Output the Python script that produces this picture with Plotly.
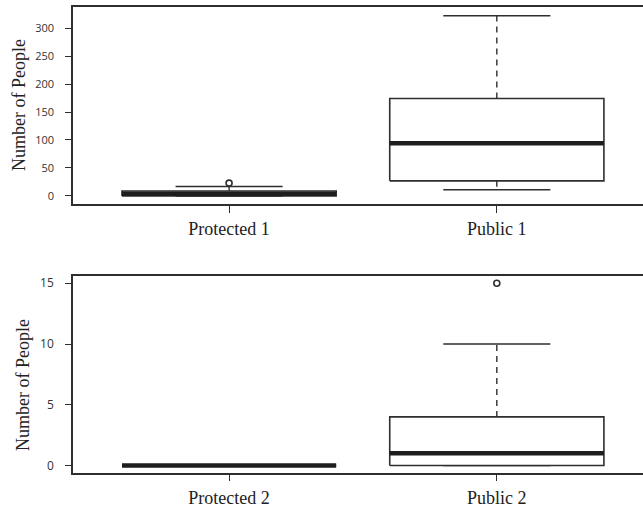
import plotly.graph_objects as go

# ---- data: five-number summaries per group ----
categories_top = ["Protected 1", "Public 1"]
lower_top = [0, 11]
q1_top = [0, 27]
median_top = [4, 94]
q3_top = [9, 174]
upper_top = [17, 322]
outliers_top = [[23], []]

categories_bottom = ["Protected 2", "Public 2"]
lower_bottom = [0, 0]
q1_bottom = [0, 0]
median_bottom = [0, 1]
q3_bottom = [0, 4]
upper_bottom = [0, 10]
outliers_bottom = [[], [15]]

yticks_top = [0, 50, 100, 150, 200, 250, 300]
yticks_bottom = [0, 5, 10, 15]

# ---- styling ----
W, H = 643, 507
INK = "#2e2e2e"
BOX_HALF = 0.4
CAP_HALF = 0.2
SERIF = "Liberation Serif, Times New Roman, serif"
SANS = "Open Sans, Arial, sans-serif"

fig = go.Figure()


def add_boxes(xa, ya, lower, q1, med, q3, upper, outliers):
    for i in range(len(med)):
        c = i + 1
        # whiskers (dashed)
        fig.add_trace(go.Scatter(
            x=[c, c, None, c, c], y=[q3[i], upper[i], None, q1[i], lower[i]],
            mode="lines", line=dict(color=INK, width=1.4, dash="6px,5px"),
            xaxis=xa, yaxis=ya, hoverinfo="skip", showlegend=False))
        # whisker caps
        fig.add_trace(go.Scatter(
            x=[c - CAP_HALF, c + CAP_HALF, None, c - CAP_HALF, c + CAP_HALF],
            y=[upper[i], upper[i], None, lower[i], lower[i]],
            mode="lines", line=dict(color=INK, width=1.5),
            xaxis=xa, yaxis=ya, hoverinfo="skip", showlegend=False))
        # box
        fig.add_trace(go.Scatter(
            x=[c - BOX_HALF, c + BOX_HALF, c + BOX_HALF, c - BOX_HALF, c - BOX_HALF],
            y=[q1[i], q1[i], q3[i], q3[i], q1[i]],
            mode="lines", line=dict(color=INK, width=1.6),
            fill="toself", fillcolor="white",
            xaxis=xa, yaxis=ya, hoverinfo="skip", showlegend=False))
        # median
        fig.add_trace(go.Scatter(
            x=[c - BOX_HALF, c + BOX_HALF], y=[med[i], med[i]],
            mode="lines", line=dict(color="#1e1e1e", width=4.5),
            xaxis=xa, yaxis=ya, hoverinfo="skip", showlegend=False))
        # outliers
        if outliers[i]:
            fig.add_trace(go.Scatter(
                x=[c] * len(outliers[i]), y=outliers[i], mode="markers",
                marker=dict(symbol="circle-open", size=6, color=INK,
                            line=dict(width=1.6, color=INK)),
                xaxis=xa, yaxis=ya, hoverinfo="skip", showlegend=False))


add_boxes("x", "y", lower_top, q1_top, median_top, q3_top, upper_top, outliers_top)
add_boxes("x2", "y2", lower_bottom, q1_bottom, median_bottom, q3_bottom,
          upper_bottom, outliers_bottom)

# plot-area geometry (pixels)
L = 73
top_y0, top_y1 = 7, 204
bot_y0, bot_y1 = 276, 472.5
xrange = [0.417, 2.546]


def ydom(p0, p1):
    return [1 - p1 / H, 1 - p0 / H]


xaxis_common = dict(
    range=xrange, showgrid=False, zeroline=False,
    showline=True, mirror=True, linecolor=INK, linewidth=1.6,
    ticks="outside", ticklen=7, tickwidth=1.4, tickcolor=INK,
    tickfont=dict(family=SERIF, size=18, color="#222"),
    tickvals=[1, 2], ticklabelstandoff=1, automargin=False, fixedrange=True,
)
yaxis_common = dict(
    showgrid=False, zeroline=False,
    showline=True, mirror=False, linecolor=INK, linewidth=1.6,
    ticks="outside", ticklen=6, tickwidth=1.4, tickcolor=INK,
    tickfont=dict(family=SANS, size=11, color="#333"),
    ticklabelstandoff=9, automargin=False, fixedrange=True,
)

fig.update_layout(
    width=W, height=H,
    margin=dict(l=L, r=0, t=0, b=0),
    paper_bgcolor="white", plot_bgcolor="white",
    showlegend=False,
    xaxis=dict(xaxis_common, anchor="y", ticktext=categories_top),
    yaxis=dict(yaxis_common, anchor="x", domain=ydom(top_y0, top_y1),
               range=[-14.3, 337.5], tickvals=yticks_top),
    xaxis2=dict(xaxis_common, anchor="y2", ticktext=categories_bottom),
    yaxis2=dict(yaxis_common, anchor="x2", domain=ydom(bot_y0, bot_y1),
                range=[-0.58, 15.6], tickvals=yticks_bottom,
                tickfont=dict(family=SANS, size=12, color="#333")),
)

pw = W - L
for xc, yc in [(19, 105), (23, 385)]:
    fig.add_annotation(
        text="Number of People", xref="paper", yref="paper",
        x=(xc - L) / pw, y=1 - yc / H, xanchor="center", yanchor="middle",
        textangle=-90, showarrow=False,
        font=dict(family=SERIF, size=18, color="#222"))

fig.write_html("out.html")
